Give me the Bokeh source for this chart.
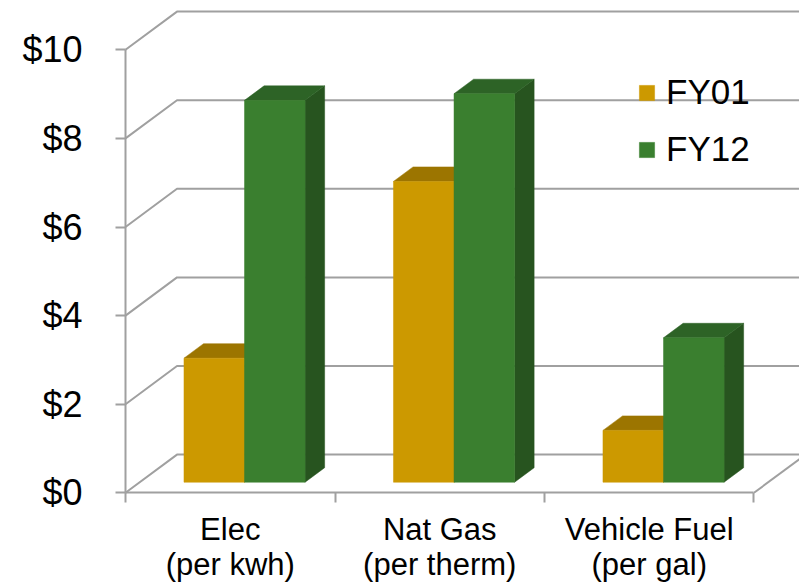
from bokeh.plotting import figure
from bokeh.models import (Range1d, LinearAxis, FixedTicker, NumeralTickFormatter,
                          CustomJSTickFormatter, Legend, LegendItem)
from bokeh.embed import file_html
from bokeh.resources import INLINE

# --- data -------------------------------------------------------------
categories = ["Elec\n(per kwh)", "Nat Gas\n(per therm)", "Vehicle Fuel\n(per gal)"]
series_names = ["FY01", "FY12"]
fy01 = [2.80, 6.79, 1.17]
fy12 = [8.62, 8.77, 3.26]
y_ticks = [0, 2, 4, 6, 8, 10]

# --- style ------------------------------------------------------------
FONT = "Liberation Sans"
GRID = "#A0A0A0"
front_colors = ["#CC9900", "#3A7F2F"]
top_colors = ["#9C7500", "#2D6326"]
side_colors = ["#A07A00", "#27541F"]

W, H = 799, 585
# oblique projection of the box depth, in category units (x) and dollars (y)
DEPTH_X = 0.2458
DEPTH_Y = 0.862
BAR_OFFSET = 0.277   # depth fraction where the bar fronts sit
BAR_DEPTH = 0.38     # depth fraction taken by each bar
BAR_WIDTH = 0.289    # width of one bar, in category units

n = len(categories)

p = figure(width=W, height=H, output_backend="svg", toolbar_location=None,
           x_range=Range1d(-0.5967, 3.2172), y_range=Range1d(-2.0926, 11.113),
           x_axis_location=None, y_axis_location=None, min_border=0,
           outline_line_color=None, background_fill_color="white")
p.grid.grid_line_color = None
p.grid.visible = False

# back wall, left-wall diagonals and the floor outline
gx, gy = [], []
for v in y_ticks:
    gx.append([0, DEPTH_X, n + DEPTH_X])
    gy.append([v, v + DEPTH_Y, v + DEPTH_Y])
gx.append([n, n + DEPTH_X])
gy.append([0, DEPTH_Y])
p.multi_line(gx, gy, line_color=GRID, line_width=2)

# 3-D bars: side, top and front faces for each series
ox, oy = BAR_OFFSET * DEPTH_X, BAR_OFFSET * DEPTH_Y
dx, dy = BAR_DEPTH * DEPTH_X, BAR_DEPTH * DEPTH_Y
legend_items = []
for s, vals in enumerate([fy01, fy12]):
    fx, fy, tx, ty, sx, sy = [], [], [], [], [], []
    for i, v in enumerate(vals):
        x0 = i + 0.5 - BAR_WIDTH + s * BAR_WIDTH + ox
        x1 = x0 + BAR_WIDTH
        b, t = oy, v + oy
        fx.append([x0, x1, x1, x0]); fy.append([b, b, t, t])
        tx.append([x0, x1, x1 + dx, x0 + dx]); ty.append([t, t, t + dy, t + dy])
        sx.append([x1, x1 + dx, x1 + dx, x1]); sy.append([b, b + dy, t + dy, t])
    p.patches(sx, sy, fill_color=side_colors[s], line_color=side_colors[s], line_width=0.5)
    p.patches(tx, ty, fill_color=top_colors[s], line_color=top_colors[s], line_width=0.5)
    r = p.patches(fx, fy, fill_color=front_colors[s], line_color=front_colors[s], line_width=0.5)
    legend_items.append(LegendItem(label=series_names[s], renderers=[r]))

# value axis on the front-left edge
yaxis = LinearAxis(fixed_location=0, bounds=(0, 10), ticker=FixedTicker(ticks=y_ticks),
                   formatter=NumeralTickFormatter(format="$0"),
                   axis_line_color=GRID, axis_line_width=2,
                   major_tick_line_color=GRID, major_tick_line_width=2,
                   major_tick_out=10, major_tick_in=0,
                   minor_tick_out=0, minor_tick_in=0,
                   major_label_text_font=FONT, major_label_text_font_size="36px",
                   major_label_text_color="black", major_label_standoff=33)
p.add_layout(yaxis, "left")

# category boundaries along the front floor edge
xaxis = LinearAxis(fixed_location=0, bounds=(0, n), ticker=FixedTicker(ticks=list(range(n + 1))),
                   formatter=CustomJSTickFormatter(code="return ''"),
                   axis_line_color=GRID, axis_line_width=2,
                   major_tick_line_color=GRID, major_tick_line_width=2,
                   major_tick_out=10, major_tick_in=0,
                   minor_tick_out=0, minor_tick_in=0)
p.add_layout(xaxis, "below")

# category names centred under each group
xlabels = LinearAxis(fixed_location=0, ticker=FixedTicker(ticks=[i + 0.5 for i in range(n)]),
                     formatter=CustomJSTickFormatter(args=dict(labels=categories),
                                                     code="return labels[index]"),
                     axis_line_color=None, major_tick_line_color=None,
                     minor_tick_line_color=None,
                     major_label_text_font=FONT, major_label_text_font_size="31px",
                     major_label_text_color="black", major_label_text_line_height=1.0,
                     major_label_standoff=13)
p.add_layout(xlabels, "below")

legend = Legend(items=legend_items, location=(637, 416), orientation="vertical",
                glyph_width=19, glyph_height=19, label_standoff=10, spacing=17,
                padding=0, margin=0, border_line_color=None, background_fill_alpha=0,
                label_text_font=FONT, label_text_font_size="35px", label_text_color="black")
p.add_layout(legend)

open("out.html", "w").write(file_html(p, INLINE))
